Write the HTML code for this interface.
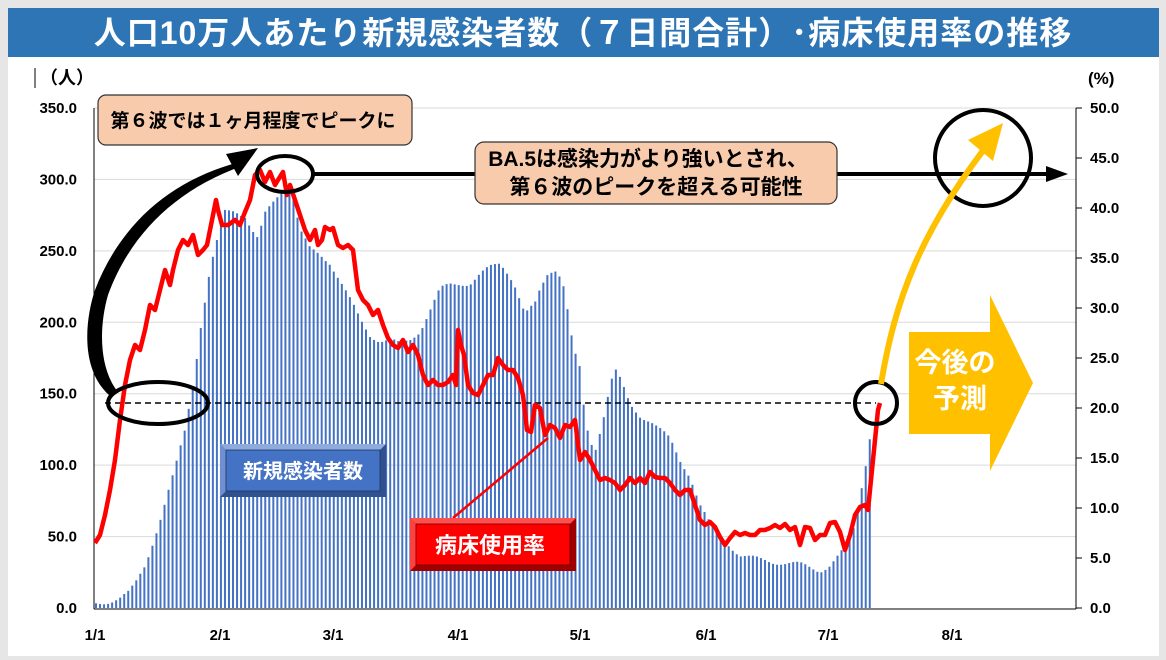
<!DOCTYPE html>
<html><head><meta charset="utf-8">
<style>
html,body{margin:0;padding:0;background:#e6e6e6;}
svg{display:block;}
text{font-family:"Liberation Sans","Noto Sans CJK JP",sans-serif;}
</style></head>
<body>
<svg id="s" width="1166" height="660" viewBox="0 0 1166 660" xmlns="http://www.w3.org/2000/svg">
<rect x="0" y="0" width="1166" height="660" fill="#e6e6e6"/>
<rect x="8" y="8" width="1151" height="648" fill="#ffffff"/>
<rect x="8" y="8" width="1151" height="49" fill="#2e75b6"/>
<text x="583" y="44" text-anchor="middle" font-size="32" font-weight="bold" fill="#fff" letter-spacing="1">人口10万人あたり新規感染者数（７日間合計）･病床使用率の推移</text>
<g id="grid" stroke="#d9d9d9" stroke-width="1"></g>
<g id="bars" fill="#4472c4"></g>
<line x1="94" y1="108" x2="94" y2="609" stroke="#000" stroke-width="1"/>
<line x1="94" y1="609" x2="1076" y2="609" stroke="#000" stroke-width="1"/>
<line x1="1076" y1="108" x2="1076" y2="609" stroke="#000" stroke-width="1"/>
<g id="ticks" stroke="#000" stroke-width="1"></g>
<g id="labels" font-size="15" font-weight="bold" fill="#000"></g>
<rect x="34" y="68" width="2" height="20" fill="#808080"/>
<text x="40" y="84" font-size="18" font-weight="bold">（人）</text>
<text x="1088" y="84" font-size="17" font-weight="bold">(%)</text>
<line x1="105" y1="403" x2="876" y2="403" stroke="#000" stroke-width="1.5" stroke-dasharray="6,4"/>
<polyline id="red" fill="none" stroke="#ff0000" stroke-width="4.5" stroke-linejoin="round"/>
<!-- annotations -->
<line x1="312" y1="174" x2="1048" y2="174" stroke="#000" stroke-width="4"/>
<polygon points="1046,166 1068,174 1046,182" fill="#000"/>
<ellipse cx="285" cy="174" rx="28" ry="18" fill="none" stroke="#000" stroke-width="4"/>
<ellipse cx="158" cy="403" rx="50" ry="21" fill="none" stroke="#000" stroke-width="4"/>
<circle cx="876" cy="403" r="21" fill="none" stroke="#000" stroke-width="4"/>
<circle cx="983" cy="158" r="48" fill="none" stroke="#000" stroke-width="4"/>
<path d="M110,396 C80,370 85,320 95,290 C120,225 170,180 240,162 L242,166 C175,190 130,235 108,295 C98,330 100,370 118,392 Z" fill="#000"/>
<polygon points="226,154 258,148 238,176" fill="#000"/>
<path d="M881,384 C895,300 920,230 995,135" fill="none" stroke="#ffc000" stroke-width="6"/>
<polygon points="968,140 1003,123 993,161" fill="#ffc000"/>
<polygon points="909,332 990,332 990,295 1033,383 990,471 990,434 909,434" fill="#ffc000"/>
<text x="955" y="372" text-anchor="middle" font-size="27" font-weight="bold" fill="#fff">今後の</text>
<text x="960" y="408" text-anchor="middle" font-size="27" font-weight="bold" fill="#fff">予測</text>
<rect x="98" y="95" width="314" height="50" rx="8" fill="#f8cbad" stroke="#333" stroke-width="1.2"/>
<text x="253" y="127" text-anchor="middle" font-size="19" font-weight="bold">第６波では１ヶ月程度でピークに</text>
<rect x="475" y="142" width="362" height="62" rx="9" fill="#f8cbad" stroke="#333" stroke-width="1.2"/>
<text x="648" y="166" text-anchor="middle" font-size="21" font-weight="bold">BA.5は感染力がより強いとされ、</text>
<text x="656" y="194" text-anchor="middle" font-size="21" font-weight="bold">第６波のピークを超える可能性</text>
<rect x="220" y="444" width="166" height="53" fill="#2f528f"/>
<polygon points="220,444 386,444 380,450 226,450" fill="#8faadc"/>
<polygon points="220,444 226,450 226,491 220,497" fill="#6f8fd0"/>
<rect x="226" y="450" width="154" height="41" fill="#4472c4" stroke="#1f3864" stroke-width="0.8"/>
<text x="303" y="478" text-anchor="middle" font-size="20" font-weight="bold" fill="#fff">新規感染者数</text>
<line x1="453" y1="518" x2="548" y2="438" stroke="#ff0000" stroke-width="2.5"/>
<rect x="410" y="518" width="166" height="53" fill="#a00000"/>
<polygon points="410,518 576,518 570,524 416,524" fill="#ff5050"/>
<polygon points="410,518 416,524 416,565 410,571" fill="#ff4040"/>
<rect x="416" y="524" width="154" height="41" fill="#ff0000" stroke="#600" stroke-width="0.8"/>
<text x="490" y="553" text-anchor="middle" font-size="22" font-weight="bold" fill="#fff">病床使用率</text>
</svg>
<script>
var NS="http://www.w3.org/2000/svg";
function el(p,t,a,txt){var e=document.createElementNS(NS,t);for(var k in a)e.setAttribute(k,a[k]);if(txt!==undefined)e.textContent=txt;document.getElementById(p).appendChild(e);return e;}
for(var i=0;i<=7;i++){var y=608-i*500/7;if(i>0)el("grid","line",{x1:94,x2:1076,y1:y,y2:y});
el("labels","text",{x:77,y:y+5,"text-anchor":"end"},(i*50).toFixed(1));}
for(var j=0;j<=10;j++){var y=608-j*50;el("ticks","line",{x1:1076,x2:1082,y1:y,y2:y});
el("labels","text",{x:1090,y:y+5},(j*5).toFixed(1));}
var xl=[["1/1",95],["2/1",220],["3/1",333],["4/1",458],["5/1",580],["6/1",706],["7/1",828],["8/1",952]];
xl.forEach(function(a){el("labels","text",{x:a[1],y:640,"text-anchor":"middle"},a[0]);});
var bk=[[95,604],[120,598],[128,594],[135,585],[145,565],[160,520],[175,470],[185,430],[195,370],[200,330],[210,270],[215,250],[225,212],[235,210],[245,215],[252,230],[258,240],[265,215],[275,200],[285,185],[293,195],[300,230],[310,250],[320,255],[330,262],[340,280],[350,300],[360,320],[370,335],[380,340],[390,340],[400,345],[410,340],[420,330],[430,310],[440,290],[450,285],[460,283],[470,283],[480,275],[490,268],[500,263],[505,268],[510,275],[515,285],[520,300],[525,315],[530,310],[535,305],[540,290],[548,272],[555,268],[560,275],[565,290],[570,330],[575,355],[580,370],[585,420],[590,440],[595,450],[600,430],[605,410],[610,385],[615,370],[620,380],[630,405],[640,415],[650,420],[660,430],[670,440],[680,460],[690,475],[700,505],[710,525],[720,535],[730,545],[740,555],[750,558],[760,560],[780,562],[800,565],[820,570],[830,565],[840,555],[848,545],[855,525],[860,495],[865,468],[870,435],[873,432]];
function interp(k,x){for(var i=1;i<k.length;i++){if(x<=k[i][0]){var a=k[i-1],b=k[i];return a[1]+(b[1]-a[1])*(x-a[0])/(b[0]-a[0]);}}return k[k.length-1][1];}
for(var x=96;x<=873;x+=4.03){var t=interp(bk,x)+((Math.sin(x*1.7)*3));if(t>605)t=605;el("bars","rect",{x:x-1,y:t,width:2,height:608-t});}
var rk="95,543 100,535 105,515 110,490 115,460 120,420 125,385 130,360 135,345 140,350 145,330 150,305 155,310 160,290 165,270 170,285 173,270 178,250 183,240 188,245 193,235 198,255 203,250 207,245 210,230 213,215 216,200 218,210 222,225 228,225 235,220 240,225 245,212 250,200 255,175 260,170 265,182 270,172 275,185 278,180 283,172 287,195 290,185 295,200 300,215 305,230 310,240 315,230 318,245 322,240 325,227 330,230 333,228 338,245 343,248 348,245 353,250 358,290 363,300 368,305 373,315 378,310 383,325 388,338 393,345 398,348 403,340 408,352 413,345 418,355 423,375 428,385 433,380 438,385 443,385 448,382 453,375 456,385 458,330 461,345 464,355 468,385 473,393 478,395 483,385 488,375 493,375 498,358 503,365 508,370 513,370 518,378 523,395 527,430 531,432 535,405 540,408 545,435 550,425 555,428 560,438 565,425 570,427 575,420 580,460 585,452 590,460 595,470 600,480 605,478 610,480 615,483 620,490 625,485 630,478 635,483 640,478 645,483 650,472 655,477 660,478 665,478 670,483 675,490 680,495 685,490 690,490 695,505 700,520 705,525 710,522 715,527 720,537 725,545 730,538 735,532 740,535 745,533 750,535 755,535 760,530 765,530 770,528 775,525 780,528 785,524 790,530 795,527 800,545 805,527 810,528 815,540 820,535 825,535 830,523 835,522 840,532 845,550 850,535 855,515 860,507 865,505 868,510 872,470 875,440 878,410 880,403";
document.getElementById("red").setAttribute("points",rk);
</script>
</body></html>
